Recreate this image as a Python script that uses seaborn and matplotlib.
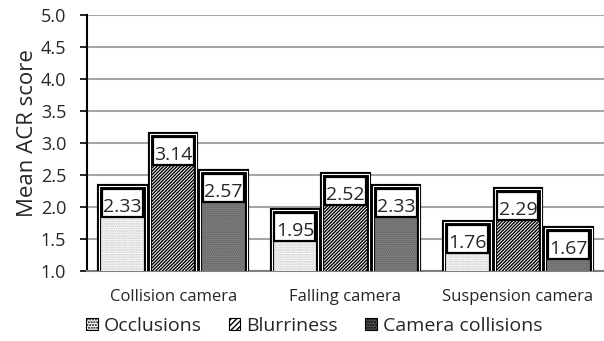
import matplotlib
matplotlib.use("Agg")
import matplotlib.pyplot as plt
import matplotlib.patches as mpatches
import matplotlib.transforms as mtransforms
import seaborn as sns
import pandas as pd

# Data
cameras = ["Collision camera", "Falling camera", "Suspension camera"]
issues = ["Occlusions", "Blurriness", "Camera collisions"]
occlusions = [2.33, 1.95, 1.76]
blurriness = [3.14, 2.52, 2.29]
camera_collisions = [2.57, 2.33, 1.67]
y_ticks = [1.0, 1.5, 2.0, 2.5, 3.0, 3.5, 4.0, 4.5, 5.0]

df = pd.DataFrame({
    "camera": cameras * 3,
    "issue": [issues[0]] * 3 + [issues[1]] * 3 + [issues[2]] * 3,
    "score": occlusions + blurriness + camera_collisions,
})

sns.set_theme(style="white")
plt.rcParams["font.family"] = ["Open Sans", "DejaVu Sans"]
plt.rcParams["hatch.linewidth"] = 1.0

# fill colour, hatch colour, hatch pattern per series
styles = {
    "Occlusions": ("white", "#c4c4c4", "......."),
    "Blurriness": ("white", "black", "//////////"),
    "Camera collisions": ("#565656", "#9a9a9a", "........"),
}

fig = plt.figure(figsize=(6.04, 3.41), dpi=100)
ax = fig.add_axes([0.144, 0.205, 0.856, 0.751])

sns.barplot(data=df, x="camera", y="score", hue="issue", order=cameras,
            hue_order=issues, width=0.88, gap=0.08, ax=ax, legend=False,
            palette=["white"] * 3, linewidth=0, zorder=3)

ax.set_ylim(1.0, 5.0)
ax.set_xlim(-0.5, 2.5)

# value box size and placement, in points
px = 72 / fig.dpi
box_w, box_h, box_gap = 41 * px, 28 * px, 3 * px
baseline_drop = 26 * px
to_display = mtransforms.Affine2D().scale(fig.dpi / 72)

for issue, container in zip(issues, ax.containers):
    face, hcol, hatch = styles[issue]
    for bar, val in zip(container, df.loc[df.issue == issue, "score"]):
        bar.set_facecolor(face)
        bar.set_edgecolor(hcol)
        bar.set_hatch(hatch)
        bar.set_linewidth(0)
        x, w = bar.get_x(), bar.get_width()
        y0, h = bar.get_y(), bar.get_height()
        xc, top = x + w / 2, y0 + h
        # double outline: thick black with a thin white line inside
        ax.add_patch(mpatches.Rectangle((x, y0), w, h, fill=False,
                                        edgecolor="black", lw=3.0, zorder=4))
        ax.add_patch(mpatches.Rectangle((x, y0), w, h, fill=False,
                                        edgecolor="white", lw=0.8, zorder=4))
        # white value box hanging from the top of the bar
        anchor = to_display + mtransforms.ScaledTranslation(xc, top, ax.transData)
        ax.add_patch(mpatches.Rectangle((-box_w / 2, -box_gap - box_h), box_w, box_h,
                                        facecolor="white", edgecolor="black",
                                        lw=1.6, transform=anchor, zorder=5))
        ax.annotate(f"{val:.2f}", xy=(xc, top), xytext=(0, -baseline_drop),
                    textcoords="offset points", ha="center", va="baseline",
                    fontsize=14, zorder=6)

ax.set_yticks(y_ticks)
ax.set_yticklabels([f"{t:.1f}" for t in y_ticks], fontsize=13)
ax.yaxis.grid(True, color="#a6a6a6", lw=1.5, zorder=0)
ax.set_axisbelow(True)
ax.tick_params(axis="y", direction="out", length=5, width=1.2, color="black",
               pad=10, left=True)
ax.tick_params(axis="x", length=0, pad=13, labelsize=12)
ax.set_xlabel("")
ax.set_ylabel("Mean ACR score", fontsize=16)
ax.yaxis.set_label_coords(-0.095, 0.54)

for side in ["top", "right"]:
    ax.spines[side].set_visible(False)
ax.spines["left"].set_color("black")
ax.spines["left"].set_linewidth(1.5)
ax.spines["bottom"].set_color("#7f7f7f")
ax.spines["bottom"].set_linewidth(1.5)

handles = []
for issue in issues:
    face, hcol, hatch = styles[issue]
    handles.append(mpatches.Patch(facecolor=face, edgecolor="black", lw=0.8,
                                  hatch=hatch[:6], label=issue))
fig.legend(handles=handles, loc="center", bbox_to_anchor=(0.52, 0.044),
           ncol=3, frameon=False, fontsize=14, handlelength=0.6,
           handleheight=0.6, handletextpad=0.3, columnspacing=1.4)

fig.savefig("out.png", dpi=100)
